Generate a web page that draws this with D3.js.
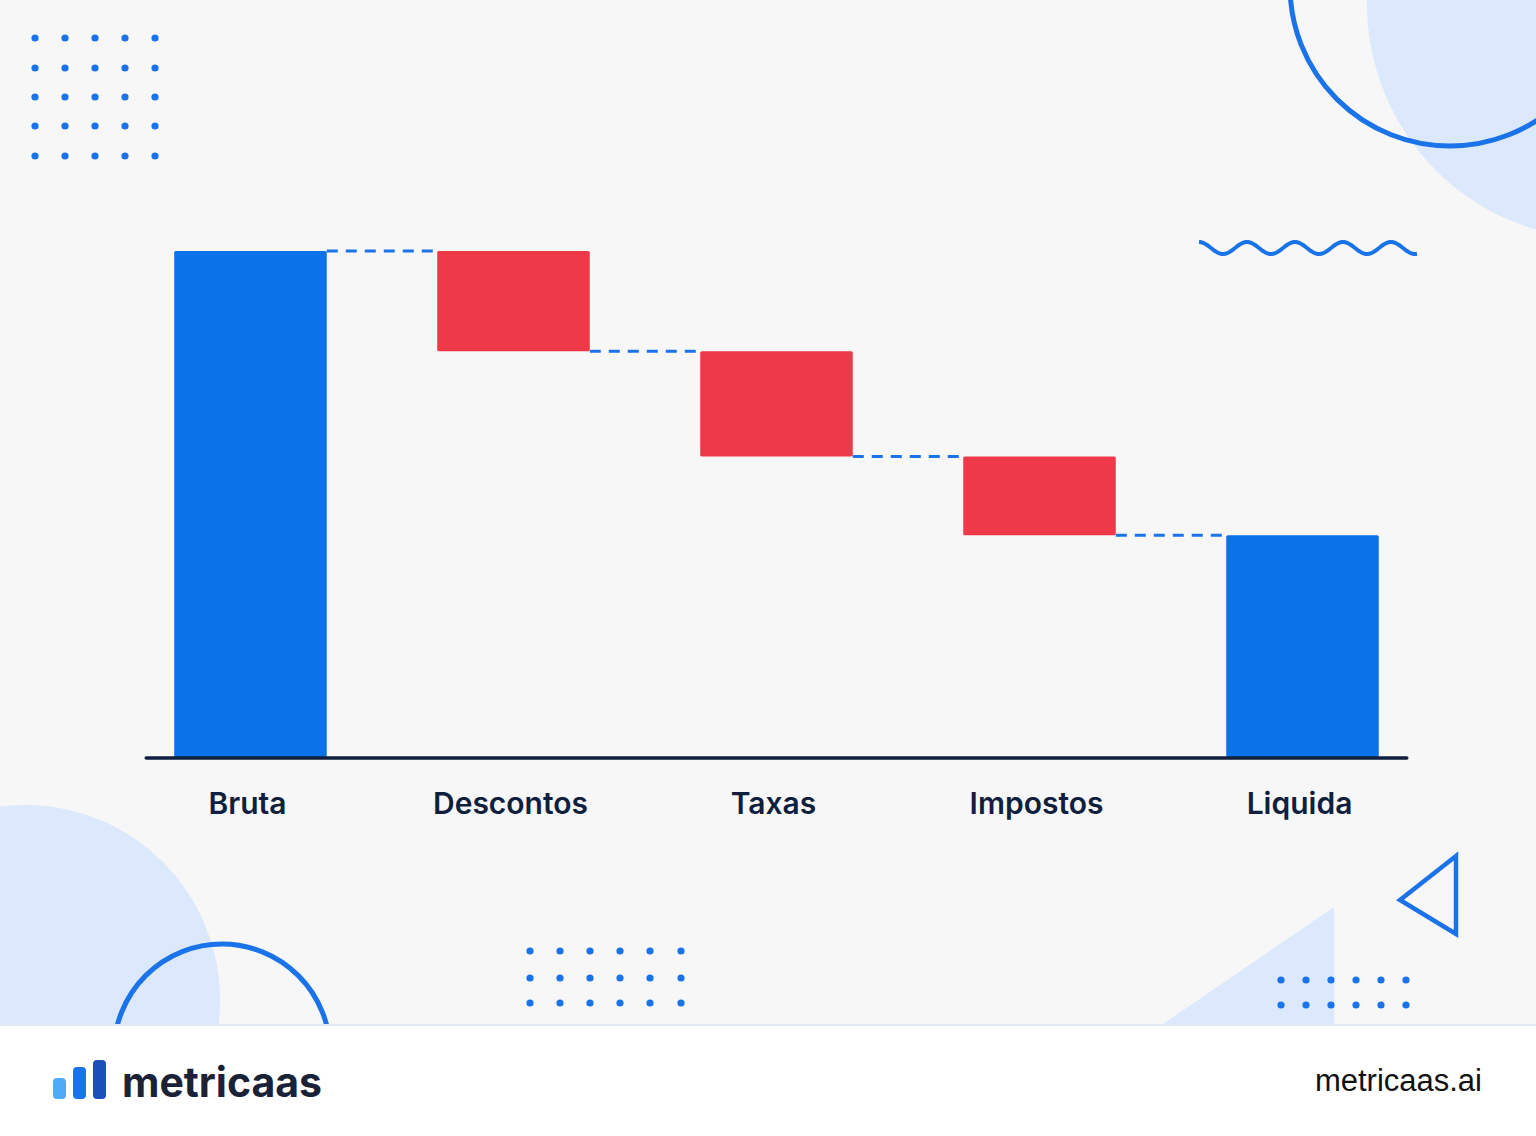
<!DOCTYPE html>
<html>
<head>
<meta charset="utf-8">
<script src="https://cdn.jsdelivr.net/npm/d3@7"></script>
<style>
  html, body { margin: 0; padding: 0; background: #ffffff; }
  svg { display: block; }
</style>
</head>
<body>
<svg id="chart" width="1536" height="1136"></svg>
<script>
// ---- data ----
const categories = ["Bruta", "Descontos", "Taxas", "Impostos", "Liquida"];
const deltas = [100, -19.8, -20.8, -15.6, null];   // null = total bar
const barTypes = ["total", "decrease", "decrease", "decrease", "total"];

// ---- compute waterfall ----
let running = 0;
const bars = categories.map((c, i) => {
  let y0, y1;
  if (barTypes[i] === "total") {
    if (deltas[i] !== null) running = deltas[i];
    y0 = 0; y1 = running;
  } else {
    y0 = running; running += deltas[i]; y1 = running;
  }
  return { cat: c, type: barTypes[i], lo: Math.min(y0, y1), hi: Math.max(y0, y1), end: running };
});

const svg = d3.select("#chart");
const W = 1536, H = 1136;
const BLUE = "#1a73e8";
const LIGHT = "#dce8fb";

// background
svg.append("rect").attr("x", 0).attr("y", 0).attr("width", W).attr("height", 1025).attr("fill", "#f7f7f8");
svg.append("rect").attr("x", 0).attr("y", 1025).attr("width", W).attr("height", H - 1025).attr("fill", "#ffffff");

const clip = svg.append("defs").append("clipPath").attr("id", "area");
clip.append("rect").attr("x", 0).attr("y", 0).attr("width", W).attr("height", 1024);

const deco = svg.append("g").attr("clip-path", "url(#area)");

// top-right light circle + outline circle
deco.append("circle").attr("cx", 1602).attr("cy", 4).attr("r", 235).attr("fill", LIGHT);
deco.append("circle").attr("cx", 1450).attr("cy", -14).attr("r", 160)
  .attr("fill", "none").attr("stroke", BLUE).attr("stroke-width", 5);

// bottom-left light circle + outline circle
deco.append("circle").attr("cx", 25).attr("cy", 1000).attr("r", 195).attr("fill", LIGHT);
deco.append("circle").attr("cx", 222).attr("cy", 1052).attr("r", 108)
  .attr("fill", "none").attr("stroke", BLUE).attr("stroke-width", 5);

// bottom-right light triangle
deco.append("path").attr("d", "M1163,1024 L1334,907 L1334,1024 Z").attr("fill", LIGHT);
// outline triangle
deco.append("path").attr("d", "M1456,856 L1400,900 L1456,934 Z")
  .attr("fill", "none").attr("stroke", BLUE).attr("stroke-width", 4.5).attr("stroke-linejoin", "miter");

// wave
const wavePts = d3.range(1199, 1418, 1).map(x => [x, 248 - 6 * Math.cos(2 * Math.PI * (x - 1199) / 48)]);
deco.append("path").attr("d", d3.line()(wavePts)).attr("fill", "none")
  .attr("stroke", BLUE).attr("stroke-width", 4).attr("stroke-linecap", "butt");

// dot grids
function dots(xs, ys) {
  ys.forEach(y => xs.forEach(x => {
    deco.append("circle").attr("cx", x).attr("cy", y).attr("r", 3.6).attr("fill", BLUE);
  }));
}
dots([35, 65, 95, 125, 155], [38, 68, 97, 126, 156]);
dots([530, 560, 590, 620, 650, 681], [951, 978, 1003]);
dots([1281, 1306, 1331, 1356, 1381, 1406], [980, 1005]);

// ---- chart ----
const x = d3.scaleBand().domain(categories).range([119, 1434]).paddingInner(0.42).paddingOuter(0.21);
const y = d3.scaleLinear().domain([0, 100]).range([757, 251]);

const g = svg.append("g");

// connectors
bars.slice(0, -1).forEach((b, i) => {
  const nx = x(categories[i + 1]);
  g.append("line")
    .attr("x1", x(b.cat) + x.bandwidth()).attr("x2", nx)
    .attr("y1", y(b.end)).attr("y2", y(b.end))
    .attr("stroke", BLUE).attr("stroke-width", 3).attr("stroke-dasharray", "11,8");
});

// bars
g.selectAll("rect.bar").data(bars).join("rect")
  .attr("class", "bar")
  .attr("x", d => x(d.cat))
  .attr("width", x.bandwidth())
  .attr("y", d => y(d.hi))
  .attr("height", d => y(d.lo) - y(d.hi))
  .attr("rx", 1.5)
  .attr("fill", d => d.type === "total" ? "#0b72ea" : "#ee3a48");

// axis baseline
g.append("line")
  .attr("x1", x(categories[0]) - 28).attr("x2", x(categories[4]) + x.bandwidth() + 28)
  .attr("y1", 758).attr("y2", 758)
  .attr("stroke", "#0f1f3d").attr("stroke-width", 3.5).attr("stroke-linecap", "round");

// axis labels
const axis = g.append("g").attr("transform", "translate(0,758)")
  .call(d3.axisBottom(x).tickSize(0).tickPadding(0));
axis.select(".domain").remove();
axis.selectAll("text")
  .attr("dy", 0).attr("y", 56).attr("dx", -3)
  .attr("font-family", "Inter, 'Open Sans', sans-serif")
  .attr("font-weight", 600).attr("font-size", 30)
  .attr("fill", "#0f1f3d");

// ---- footer ----
svg.append("line").attr("x1", 0).attr("x2", W).attr("y1", 1025).attr("y2", 1025)
  .attr("stroke", "#e3e8f0").attr("stroke-width", 2);

const logoBars = [
  { x: 53, y: 1078, h: 21, c: "#4dabf7" },
  { x: 73, y: 1067, h: 32, c: "#1a73e8" },
  { x: 93, y: 1060, h: 39, c: "#1c4fb8" }
];
logoBars.forEach(b => {
  svg.append("rect").attr("x", b.x).attr("y", b.y).attr("width", 13).attr("height", b.h)
    .attr("rx", 4).attr("fill", b.c);
});
svg.append("text").attr("x", 122).attr("y", 1097)
  .attr("font-family", "Inter, sans-serif").attr("font-weight", 700).attr("font-size", 41)
  .attr("fill", "#1a2238").text("metricaas");
svg.append("text").attr("x", 1482).attr("y", 1091).attr("text-anchor", "end")
  .attr("font-family", "'Liberation Sans', Arial, sans-serif").attr("font-size", 31)
  .attr("fill", "#111111").text("metricaas.ai");
</script>
</body>
</html>
